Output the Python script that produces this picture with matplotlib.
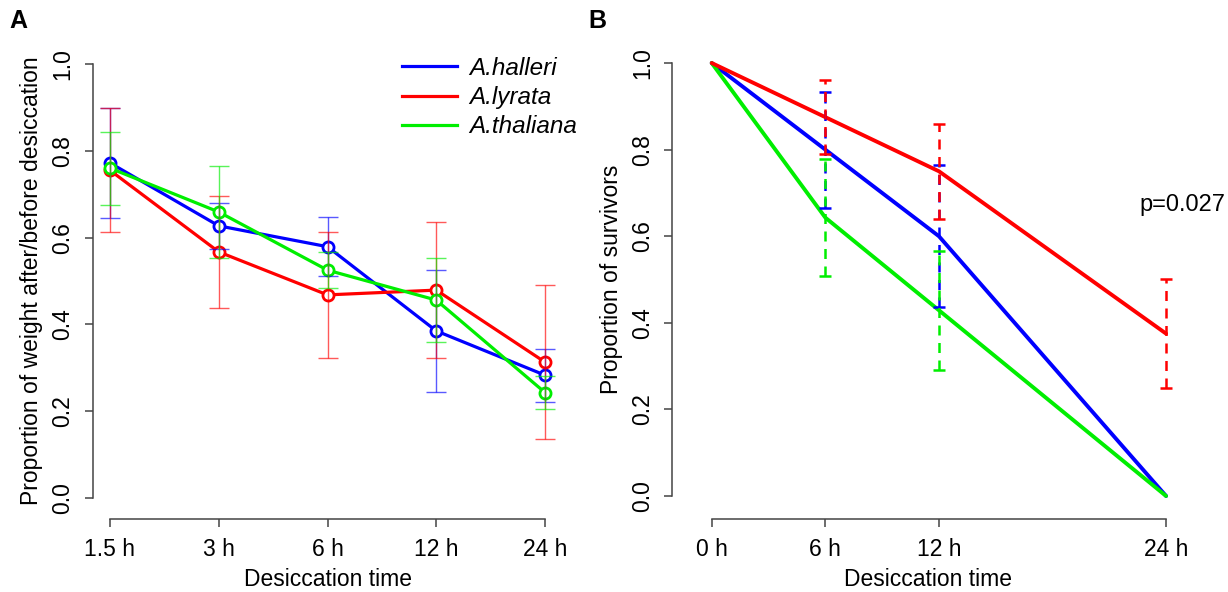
import numpy as np
import matplotlib
matplotlib.use("Agg")
import matplotlib.pyplot as plt

plt.rcParams['font.family'] = ['Liberation Sans', 'DejaVu Sans']

# weight after/before desiccation, mean and error half-width
times_a = ["1.5 h", "3 h", "6 h", "12 h", "24 h"]
halleri_w = [0.772, 0.627, 0.579, 0.385, 0.283]
halleri_we = [0.126, 0.053, 0.068, 0.141, 0.061]
lyrata_w = [0.755, 0.567, 0.468, 0.479, 0.313]
lyrata_we = [0.143, 0.129, 0.145, 0.156, 0.178]
thaliana_w = [0.760, 0.659, 0.525, 0.456, 0.243]
thaliana_we = [0.084, 0.106, 0.041, 0.097, 0.037]

# survivors after desiccation
hours_b = [0, 6, 12, 24]
halleri_s = [1.0, 0.8, 0.6, 0.0]
halleri_se = [0, 0.134, 0.164, 0]
lyrata_s = [1.0, 0.875, 0.75, 0.375]
lyrata_se = [0, 0.085, 0.11, 0.126]
thaliana_s = [1.0, 0.643, 0.429, 0.0]
thaliana_se = [0, 0.135, 0.138, 0]

species = ["A.halleri", "A.lyrata", "A.thaliana"]
cols = ["#0000FF", "#FF0000", "#00EE00"]
axcol = "#444444"
fs = 16.5

fig = plt.figure(figsize=(12.28, 5.92), dpi=100)
axA = fig.add_axes([0.0754, 0.1294, 0.3826, 0.7919])
axB = fig.add_axes([0.5472, 0.1329, 0.4178, 0.7899])


def r_axes(ax, xb, xticks, xlabels, ylabel, out_x):
    for s in ["top", "right"]:
        ax.spines[s].set_visible(False)
    ax.spines["left"].set_bounds(0, 1)
    ax.spines["bottom"].set_bounds(*xb)
    ax.spines["bottom"].set_position(("outward", out_x))
    for s in ["left", "bottom"]:
        ax.spines[s].set_color(axcol)
        ax.spines[s].set_linewidth(1.1)
    ax.set_xticks(xticks)
    ax.set_xticklabels(xlabels)
    ax.set_yticks([0, 0.2, 0.4, 0.6, 0.8, 1.0])
    ax.set_yticklabels(["0.0", "0.2", "0.4", "0.6", "0.8", "1.0"], rotation=90, va="center")
    ax.tick_params(length=6, width=1.1, color=axcol, labelsize=fs)
    ax.tick_params(axis="y", pad=7)
    ax.tick_params(axis="x", pad=8)
    ax.set_ylabel(ylabel, fontsize=fs, labelpad=6)
    ax.set_xlabel("Desiccation time", fontsize=fs, labelpad=5)


# panel A
xa = np.arange(1, len(times_a) + 1)
seriesA = [(halleri_w, halleri_we), (lyrata_w, lyrata_we), (thaliana_w, thaliana_we)]
for (m, e), c, lab in zip(seriesA, cols, species):
    axA.plot(xa, m, color=c, lw=2.3, marker="o", ms=8, mfc="white", mec=c, mew=2, label=lab, zorder=2)
for (m, e), c in zip(seriesA, cols):
    axA.errorbar(xa, m, yerr=e, fmt="none", ecolor=c, elinewidth=1, capsize=7.5, capthick=1, alpha=0.65, zorder=3)
axA.set_xlim(0.84, 5.16)
axA.set_ylim(-0.04, 1.04)
r_axes(axA, (1, 5), xa, times_a, "Proportion of weight after/before desiccation", 2.5)
leg = axA.legend(loc="upper left", bbox_to_anchor=(402 / 1228, 1 - 57 / 592), bbox_transform=fig.transFigure,
                 frameon=False, prop={"size": 17.5, "style": "italic"}, handlelength=2.25, handletextpad=0.5,
                 labelspacing=0.25, borderpad=0, borderaxespad=0)
for h in leg.legend_handles:
    h.set_marker("")

# panel B
seriesB = [(halleri_s, halleri_se), (thaliana_s, thaliana_se), (lyrata_s, lyrata_se)]
colsB = [cols[0], cols[2], cols[1]]
for (m, e), c in zip(seriesB, colsB):
    axB.plot(hours_b, m, color=c, lw=2.8, solid_capstyle="round", zorder=2)
for (m, e), c in zip(seriesB, colsB):
    m = np.array(m)
    e = np.array(e)
    keep = e > 0
    eb = axB.errorbar(np.array(hours_b)[keep], m[keep], yerr=e[keep], fmt="none", ecolor=c,
                      elinewidth=1.8, capsize=4.5, capthick=1.8, zorder=3)
    eb[2][0].set_linestyle((0, (4, 3)))
axB.set_xlim(-2.1, 25)
axB.set_ylim(-0.04, 1.04)
r_axes(axB, (0, 24), hours_b, ["0 h", "6 h", "12 h", "24 h"], "Proportion of survivors", 4)
axB.text(24.85, 0.672, "p=0.027", fontsize=17, ha="center", va="center")

fig.text(18 / 1228, 1 - 21 / 592, "A", fontsize=18, fontweight="bold", ha="center", va="center")
fig.text(597 / 1228, 1 - 21 / 592, "B", fontsize=18, fontweight="bold", ha="center", va="center")

fig.savefig("out.png", dpi=100)
